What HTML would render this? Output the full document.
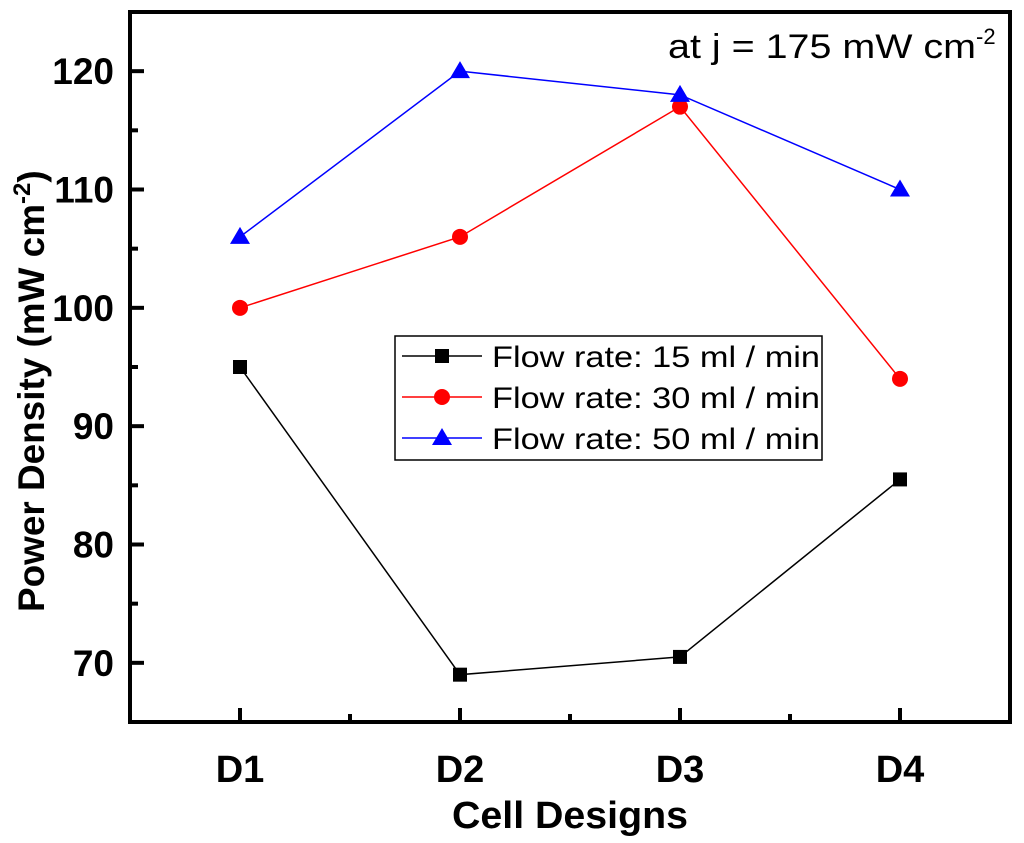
<!DOCTYPE html>
<html><head><meta charset="utf-8"><style>
html,body{margin:0;padding:0;background:#fff;}
svg{display:block;font-family:"Liberation Sans",Arial,sans-serif;}
</style></head><body>
<svg id="chart" width="1024" height="843" viewBox="0 0 1024 843" xmlns="http://www.w3.org/2000/svg"></svg>
<script>
const categories = ["D1","D2","D3","D4"];
const series15 = [95, 69, 70.5, 85.5];
const series30 = [100, 106, 117, 94];
const series50 = [106, 120, 118, 110];
const yTicks = [70, 80, 90, 100, 110, 120];
const legendLabels = ["Flow rate: 15 ml / min","Flow rate: 30 ml / min","Flow rate: 50 ml / min"];

const NS="http://www.w3.org/2000/svg";
const svg=document.getElementById('chart');
const L=130,R=1010,T=12,B=722;
const yMin=65,yMax=125;
function xS(i){return L+(i+0.5)*(R-L)/categories.length;}
function yS(v){return B-(v-yMin)/(yMax-yMin)*(B-T);}
function mk(tag,attrs,parent){const e=document.createElementNS(NS,tag);for(const k in attrs)e.setAttribute(k,attrs[k]);(parent||svg).appendChild(e);return e;}

const axisG=mk('g',{});


yTicks.forEach(v=>{
  const y=yS(v);
  mk('line',{x1:L,x2:L+14,y1:y,y2:y,stroke:'#000','stroke-width':4},axisG);
  const t=mk('text',{x:L-16,y:y+13,'text-anchor':'end','font-size':37,'font-weight':'bold'},axisG);
  
  
  t.textContent=v;
});
for(let v=yMin;v<=yMax;v+=10){const y=yS(v);if(y>T+2&&y<B-2)mk('line',{x1:L,x2:L+8,y1:y,y2:y,stroke:'#000','stroke-width':4},axisG);}
categories.forEach((c,i)=>{
  const x=xS(i);
  mk('line',{x1:x,x2:x,y1:B,y2:B-14,stroke:'#000','stroke-width':4},axisG);
  const t=mk('text',{x:x,y:B+60,'text-anchor':'middle','font-size':38,'font-weight':'bold'},axisG);
  
  
  t.textContent=c;
});
for(let i=0;i<=categories.length;i++){const x=L+i*(R-L)/categories.length;if(x>L+2&&x<R-2)mk('line',{x1:x,x2:x,y1:B,y2:B-8,stroke:'#000','stroke-width':4},axisG);}
mk('rect',{x:L,y:T,width:R-L,height:B-T,fill:'none',stroke:'#000','stroke-width':4},axisG);

function marker(kind,x,y,color,g,s){
  if(kind==='sq')return mk('rect',{x:x-s,y:y-s,width:2*s,height:2*s,fill:color},g);
  if(kind==='ci')return mk('circle',{cx:x,cy:y,r:s+1,fill:color},g);
  return mk('polygon',{points:`${x},${y-s-3} ${x-s-3},${y+s} ${x+s+3},${y+s}`,fill:color},g);
}
const allS=[[series15,'#000','sq','series-15'],[series30,'#ff0000','ci','series-30'],[series50,'#0000ff','tr','series-50']];
allS.forEach(([data,color,kind,name])=>{
  const g=mk('g',{});
  
  
  mk('polyline',{points:data.map((v,i)=>xS(i)+','+yS(v)).join(' '),fill:'none',stroke:color,'stroke-width':1.5},g);
  data.forEach((v,i)=>{const m=marker(kind,xS(i),yS(v),color,g,7);
    
    });
});

const lg=mk('g',{});


mk('rect',{x:395,y:336,width:427,height:124,fill:'#fff',stroke:'#000','stroke-width':1.5},lg);
allS.forEach(([d,color,kind],i)=>{
  const y=356+i*41;
  mk('line',{x1:402,x2:482,y1:y,y2:y,stroke:color,'stroke-width':1.5},lg);
  marker(kind,442,y,color,lg,7);
  const t=mk('text',{x:492,y:y+11,'font-size':30,textLength:328,lengthAdjust:'spacingAndGlyphs'},lg);
  
  
  t.textContent=legendLabels[i];
});

const ann=mk('text',{x:668,y:58,'font-size':34});


ann.innerHTML='<tspan textLength="308" lengthAdjust="spacingAndGlyphs">at j = 175 mW cm</tspan><tspan dy="-14" font-size="22">-2</tspan>';

const xt=mk('text',{x:452,y:828,'font-size':38,'font-weight':'bold',textLength:236,lengthAdjust:'spacingAndGlyphs'});


xt.textContent='Cell Designs';
const yt=mk('text',{x:0,y:0,'font-size':37,'font-weight':'bold',transform:'translate(44,612) rotate(-90)'});


yt.innerHTML='<tspan textLength="408" lengthAdjust="spacingAndGlyphs">Power Density (mW cm</tspan><tspan dy="-14" font-size="24">-2</tspan><tspan dy="14">)</tspan>';
</script>
</body></html>
